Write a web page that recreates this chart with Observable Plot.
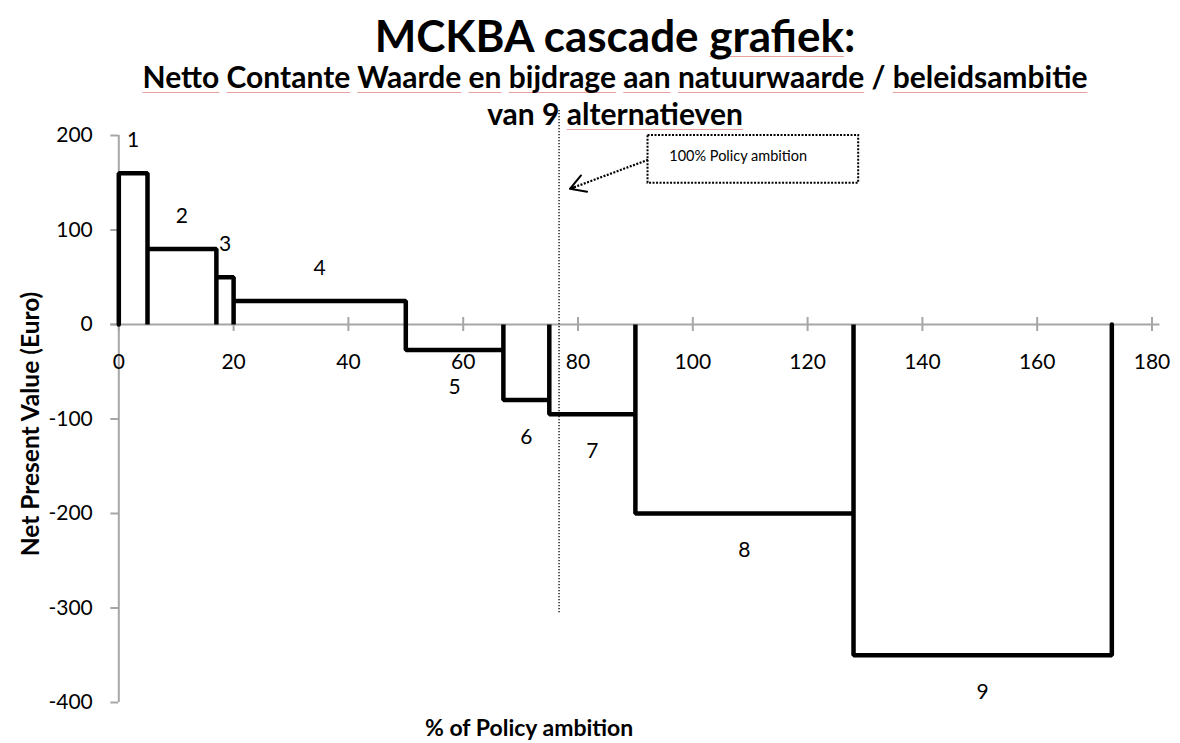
<!DOCTYPE html>
<html><head><meta charset="utf-8">
<script src="https://cdn.jsdelivr.net/npm/d3@7"></script>
<script src="https://cdn.jsdelivr.net/npm/@observablehq/plot@0.6"></script>
<style>
body{margin:0;background:#fff;font-family:Lato,"Open Sans",sans-serif;}
#wrap{position:relative;width:1180px;height:743px;overflow:hidden;background:#fff;}
#chart{position:absolute;left:0;top:0;}
.t{position:absolute;left:25px;width:1180px;text-align:center;font-weight:700;line-height:1;white-space:nowrap;color:#000;}
.u{text-decoration:underline;text-decoration-color:#eba0a0;text-decoration-thickness:1px;text-underline-offset:4px;text-decoration-skip-ink:none;}
.ax{position:absolute;font-weight:700;font-size:23px;line-height:1;white-space:nowrap;color:#000;}
</style></head><body>
<div id="wrap">
  <div id="chart"></div>
  <div class="t" id="title" style="top:13px;font-size:44px">MCKBA cascade <span class="u">grafiek</span>:</div>
  <div class="t" id="sub1" style="top:61px;font-size:30px"><span class="u">Netto</span> <span class="u">Contante</span> <span class="u">Waarde</span> <span class="u">en</span> <span class="u">bijdrage</span> <span class="u">aan</span> <span class="u">natuurwaarde</span> / <span class="u">beleidsambitie</span></div>
  <div class="t" id="sub2" style="top:98px;font-size:30px">van 9 <span class="u">alternatieven</span></div>
  <div class="ax" id="ytitle" style="left:30px;top:424px;font-size:24.5px;transform:translate(-50%,-50%) rotate(-90deg)">Net Present Value (Euro)</div>
  <div class="ax" id="xtitle" style="left:425px;top:716px">% of Policy ambition</div>
</div>
<script>
// ---- data ----
const alternatives = ["1", "2", "3", "4", "5", "6", "7", "8", "9"];
const cumulativeAmbition = [0, 5, 17, 20, 50, 67, 75, 90, 128, 173]; // % of policy ambition, breakpoints
const netPresentValue = [160, 80, 50, 25, -27, -80, -95, -200, -350];  // Euro
const xTicks = [0, 20, 40, 60, 80, 100, 120, 140, 160, 180];
const yTicks = [-400, -300, -200, -100, 0, 100, 200];
const policyAmbition100 = 76.7;
const policyLineRange = [-305, 228];
const annotationText = "100% Policy ambition";
const annotationBox = [{x1: 92.2, x2: 128.9, y1: 149.5, y2: 200}];
const annotationLabel = [{x: 95.9, y: 177.8}];
const annotationArrow = [{x1: 92.2, y1: 174.3, x2: 78.6, y2: 143.6}];

// ---- derived tables ----
const stepPath = [{x: cumulativeAmbition[0], y: 0}];
alternatives.forEach((a, i) => {
  const x0 = cumulativeAmbition[i], x1 = cumulativeAmbition[i + 1], v = netPresentValue[i];
  stepPath.push({x: x0, y: v}, {x: x1, y: v}, {x: x1, y: 0});
});
const labelRows = alternatives.map((a, i) => ({
  a, x: (cumulativeAmbition[i] + cumulativeAmbition[i + 1]) / 2, y: netPresentValue[i]
}));

const axisGray = "#a6a6a6";
const fs = 21;
const plot = Plot.plot({
  width: 1180, height: 743,
  marginLeft: 118.3, marginRight: 28.5, marginTop: 135, marginBottom: 41,
  x: {domain: [0, 180], axis: null},
  y: {domain: [-400, 200], axis: null},
  style: {fontFamily: "Lato, 'Open Sans', sans-serif", color: "#000", background: "transparent", overflow: "visible"},
  marks: [
    Plot.ruleX([0], {y1: -400, y2: 200, stroke: axisGray, strokeWidth: 2}),
    Plot.ruleY(yTicks, {x1: 0, x2: 0, insetLeft: -8, stroke: axisGray, strokeWidth: 2}),
    Plot.ruleY([0], {x1: 0, x2: 180, insetLeft: -8, insetRight: -8, stroke: axisGray, strokeWidth: 2}),
    Plot.ruleX(xTicks, {y1: 0, y2: 0, insetTop: -7, insetBottom: -7, stroke: axisGray, strokeWidth: 2}),
    Plot.text(yTicks, {x: 0, y: d => d, text: d => String(d), textAnchor: "end", dx: -26, fontSize: fs}),
    Plot.text(xTicks, {x: d => d, y: 0, text: d => String(d), dy: 38, fontSize: fs}),
    Plot.line(stepPath, {x: "x", y: "y", stroke: "#000", strokeWidth: 4.5, strokeLinejoin: "miter", strokeLinecap: "round"}),
    Plot.text(labelRows.filter(d => d.y > 0), {x: "x", y: "y", text: "a", dy: -33, fontSize: fs}),
    Plot.text(labelRows.filter(d => d.y < 0), {x: "x", y: "y", text: "a", dy: 37, fontSize: fs}),
    Plot.ruleX([policyAmbition100], {y1: policyLineRange[0], y2: policyLineRange[1], stroke: "#000", strokeWidth: 1.3, strokeDasharray: "1.3,1.7"}),
    Plot.rect(annotationBox, {x1: "x1", x2: "x2", y1: "y1", y2: "y2", fill: "white", stroke: "#000", strokeWidth: 2, strokeDasharray: "2,1.5"}),
    Plot.text(annotationLabel, {x: "x", y: "y", text: () => annotationText, textAnchor: "start", fontSize: 14.5}),
    Plot.link(annotationArrow, {x1: "x1", y1: "y1", x2: "x2", y2: "y2", stroke: "#000", strokeWidth: 2.2, strokeDasharray: "2,1.5"}),
    Plot.arrow(annotationArrow, {x1: "x1", y1: "y1", x2: "x2", y2: "y2", stroke: "#000", strokeWidth: 2, headLength: 13, insetStart: 78})
  ]
});
document.getElementById("chart").appendChild(plot);
</script>
</body></html>
